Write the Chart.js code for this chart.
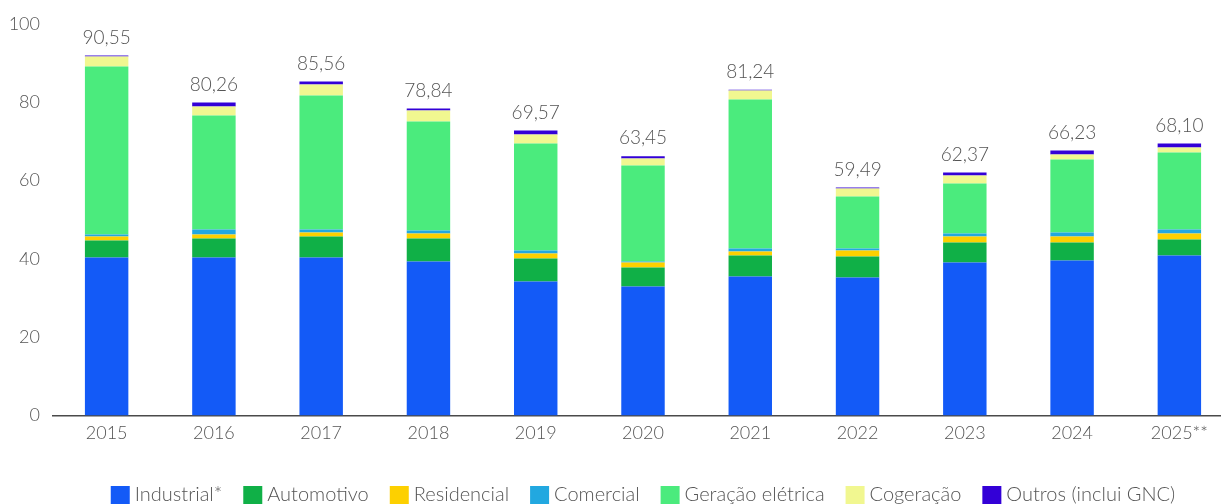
<!DOCTYPE html>
<html>
<head>
<meta charset="utf-8">
<script src="https://cdn.jsdelivr.net/npm/chart.js@4.4.1/dist/chart.umd.min.js"></script>
<style>
  html, body { margin: 0; padding: 0; background: #ffffff; overflow: hidden; }
  #wrap { width: 1233px; height: 504px; }
</style>
</head>
<body>
<div id="wrap"><canvas id="c" width="1233" height="504"></canvas></div>
<script>
const years = ['2015', '2016', '2017', '2018', '2019', '2020', '2021', '2022', '2023', '2024', '2025**'];
const totalLabels = ['90,55', '80,26', '85,56', '78,84', '69,57', '63,45', '81,24', '59,49', '62,37', '66,23', '68,10'];
const yTicks = [0, 20, 40, 60, 80, 100];

const industrial  = [40.34, 40.34, 40.34, 39.32, 34.21, 32.93, 35.49, 35.23, 39.06, 39.57, 40.85];
const automotivo  = [4.34, 4.85, 5.36, 5.87, 5.87, 4.85, 5.36, 5.36, 5.11, 4.60, 4.08];
const residencial = [1.02, 1.02, 1.02, 1.28, 1.28, 1.28, 1.02, 1.53, 1.53, 1.53, 1.53];
const comercial   = [0.51, 1.28, 0.77, 0.77, 0.76, 0.26, 0.76, 0.51, 0.76, 1.02, 1.03];
const geracao     = [42.89, 29.10, 34.21, 27.83, 27.32, 24.50, 38.04, 13.28, 12.77, 18.64, 19.65];
const cogeracao   = [2.55, 2.30, 2.80, 2.81, 2.30, 1.79, 2.30, 2.04, 2.04, 1.27, 1.28];
const outros      = [0.26, 1.02, 0.77, 0.51, 1.02, 0.60, 0.17, 0.26, 0.77, 1.02, 1.02];

const seriesNames = ['Industrial*', 'Automotivo', 'Residencial', 'Comercial', 'Geração elétrica', 'Cogeração', 'Outros (inclui GNC)'];
const seriesData = [industrial, automotivo, residencial, comercial, geracao, cogeracao, outros];
const seriesColors = ['#135AF7', '#10B047', '#FDD000', '#22A8E0', '#4BEB7D', '#F1F790', '#3300D7'];

const FONT = 'Lato, "Open Sans", sans-serif';
const WEIGHT = '300';
const TEXT = '#555555';

const totalsPlugin = {
  id: 'totals',
  afterDatasetsDraw(chart) {
    const ctx = chart.ctx;
    const lastMeta = chart.getDatasetMeta(chart.data.datasets.length - 1);
    ctx.save();
    ctx.font = WEIGHT + ' 19px ' + FONT;
    ctx.fillStyle = TEXT;
    ctx.textAlign = 'center';
    ctx.textBaseline = 'middle';
    lastMeta.data.forEach((bar, i) => {
      ctx.fillText(totalLabels[i], bar.x, bar.y - 18);
    });
    ctx.restore();
  }
};

const legendPlugin = {
  id: 'customLegend',
  afterDraw(chart) {
    const ctx = chart.ctx;
    const box = 19, boxH = 18, gapText = 5, gapItem = 21;
    ctx.save();
    ctx.font = WEIGHT + ' 20px ' + FONT;
    const widths = seriesNames.map(n => ctx.measureText(n).width);
    let total = 0;
    widths.forEach(w => total += box + gapText + w);
    total += gapItem * (seriesNames.length - 1);
    const ca = chart.chartArea;
    let x = (ca.left + ca.right) / 2 - total / 2;
    const yTop = 486;
    ctx.textBaseline = 'middle';
    ctx.textAlign = 'left';
    seriesNames.forEach((n, i) => {
      ctx.fillStyle = seriesColors[i];
      ctx.fillRect(x, yTop, box, boxH);
      ctx.fillStyle = TEXT;
      ctx.fillText(n, x + box + gapText, yTop + boxH / 2);
      x += box + gapText + widths[i] + gapItem;
    });
    ctx.restore();
  }
};

new Chart(document.getElementById('c'), {
  type: 'bar',
  data: {
    labels: years,
    datasets: seriesNames.map((n, i) => ({
      label: n,
      data: seriesData[i],
      backgroundColor: seriesColors[i],
      borderWidth: 0,
      barPercentage: 0.405,
      categoryPercentage: 1
    }))
  },
  options: {
    responsive: false,
    animation: false,
    layout: { padding: { top: 23, left: 0, right: 0, bottom: 0 } },
    plugins: {
      legend: { display: false },
      tooltip: { enabled: false }
    },
    scales: {
      x: {
        stacked: true,
        grid: { display: false, drawTicks: false },
        border: { display: true, color: '#4a4a4a', width: 1.5 },
        ticks: { color: TEXT, font: { family: FONT, size: 18, weight: WEIGHT }, padding: 7, maxRotation: 0 },
        afterFit(scale) { scale.height = 88.5; }
      },
      y: {
        stacked: true,
        min: 0,
        max: 100,
        afterBuildTicks(scale) { scale.ticks = yTicks.map(v => ({ value: v })); },
        grid: { display: false, drawTicks: false },
        border: { display: false },
        ticks: { color: TEXT, font: { family: FONT, size: 18, weight: WEIGHT }, padding: 13 },
        afterFit(scale) { scale.width = 53; }
      }
    }
  },
  plugins: [totalsPlugin, legendPlugin]
});
</script>
</body>
</html>
